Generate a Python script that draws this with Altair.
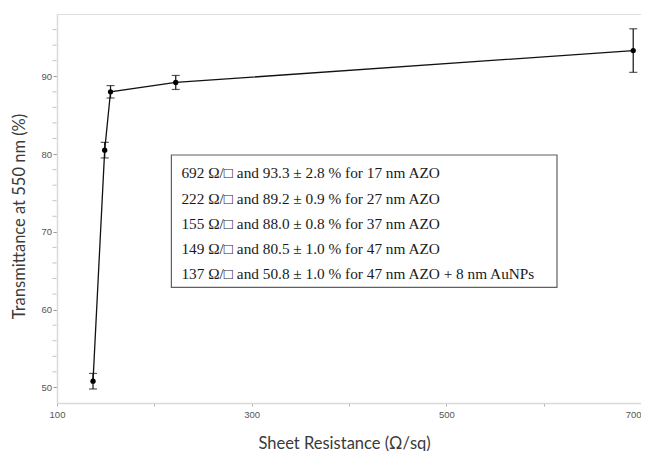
import altair as alt
import pandas as pd

# Data
resistance = [137, 149, 155, 222, 692]          # Ohm/sq
transmittance = [50.8, 80.5, 88.0, 89.2, 93.3]  # %
error = [1.0, 1.0, 0.8, 0.9, 2.8]               # %

annotation_lines = [
    "692 Ω/□ and 93.3 ± 2.8 % for 17 nm AZO",
    "222 Ω/□ and 89.2 ± 0.9 % for 27 nm AZO",
    "155 Ω/□ and 88.0 ± 0.8 % for 37 nm AZO",
    "149 Ω/□ and 80.5 ± 1.0 % for 47 nm AZO",
    "137 Ω/□ and 50.8 ± 1.0 % for 47 nm AZO + 8 nm AuNPs",
]

x_ticks = [100, 200, 300, 400, 500, 600, 700]
x_labels = [100, 300, 500, 700]
y_labels = [50, 60, 70, 80, 90]
y_minor = [v for v in range(52, 97, 2) if v % 10 != 0]

df = pd.DataFrame({"R": resistance, "T": transmittance, "err": error})
df["lo"] = df["T"] - df["err"]
df["hi"] = df["T"] + df["err"]

W, H = 584, 389

xscale = alt.Scale(domain=[100, 700], nice=False, zero=False)
yscale = alt.Scale(domain=[48, 98], nice=False, zero=False)

xaxis = alt.Axis(
    values=x_ticks,
    labelExpr="indexof([100, 300, 500, 700], datum.value) >= 0 ? datum.label : ''",
    labelAlign={"condition": {"test": "datum.value >= 700", "value": "right"}, "value": "center"},
    format="d",
    grid=False,
    labelOverlap=False,
    domainColor="#d9d9d9", domainWidth=1.5,
    tickColor="#b0b0b0", tickSize=3, tickWidth=1,
    labelFont="Liberation Sans", labelFontSize=9.5, labelColor="#555555",
    labelPadding=3,
    title="Sheet Resistance (Ω/sq)",
    titleFont="Lato", titleFontSize=16.5, titleFontWeight="normal", titleColor="#3a3a3a",
    titleX=287, titleY=40, titleAlign="center", titleBaseline="middle", titleAnchor=None,
)
yaxis = alt.Axis(
    values=y_labels,
    format="d",
    grid=False,
    labelOverlap=False,
    domainColor="#d9d9d9", domainWidth=1.5,
    tickColor="#999999", tickSize=4, tickWidth=1,
    labelFont="Liberation Sans", labelFontSize=9.5, labelColor="#555555",
    labelPadding=1.5,
    title="Transmittance at 550 nm (%)",
    titleFont="Lato", titleFontSize=16.5, titleFontWeight="normal", titleColor="#3a3a3a",
    titleX=-38, titleY=202, titleAngle=-90, titleAlign="center", titleBaseline="middle",
)

base = alt.Chart(df)

line = base.mark_line(color="#111111", strokeWidth=1.3).encode(
    x=alt.X("R:Q", scale=xscale, axis=xaxis),
    y=alt.Y("T:Q", scale=yscale, axis=yaxis),
)
bars = base.mark_rule(color="#111111", strokeWidth=1.2).encode(
    x="R:Q", y="lo:Q", y2="hi:Q"
)
cap_lo = base.mark_tick(color="#111111", orient="horizontal", size=8, thickness=1.2).encode(
    x="R:Q", y="lo:Q"
)
cap_hi = base.mark_tick(color="#111111", orient="horizontal", size=8, thickness=1.2).encode(
    x="R:Q", y="hi:Q"
)
points = base.mark_point(filled=True, color="#000000", size=28, opacity=1).encode(
    x="R:Q", y="T:Q"
)

# minor y ticks, drawn just outside the left axis line
minor = alt.Chart(pd.DataFrame({"m": y_minor})).mark_rule(
    color="#c4c4c4", strokeWidth=1
).encode(
    y=alt.Y("m:Q"), x=alt.value(-4.5), x2=alt.value(-0.5)
)

box = alt.Chart(pd.DataFrame({"k": [0]})).mark_rect(
    fill="white", stroke="#606060", strokeWidth=1.2
).encode(
    x=alt.value(114.4), x2=alt.value(500), y=alt.value(141), y2=alt.value(273.3)
)

text = alt.Chart(pd.DataFrame({"t": ["\n".join(annotation_lines)]})).mark_text(
    font="Liberation Serif", fontSize=15.3, color="#1a1a1a",
    align="left", baseline="alphabetic", lineBreak="\n", lineHeight=25.3,
).encode(
    x=alt.value(124.4), y=alt.value(164.3), text="t:N"
)

chart = alt.layer(line, bars, cap_lo, cap_hi, points, minor, box, text).properties(
    width=W, height=H,
    autosize=alt.AutoSizeParams(type="none"),
    padding={"left": 49, "top": 6, "right": 0, "bottom": 48},
).configure_view(stroke="#e3e3e3", strokeWidth=1.5).configure(background="white")

chart.save("out.html", embed_options={"renderer": "svg", "actions": False})
